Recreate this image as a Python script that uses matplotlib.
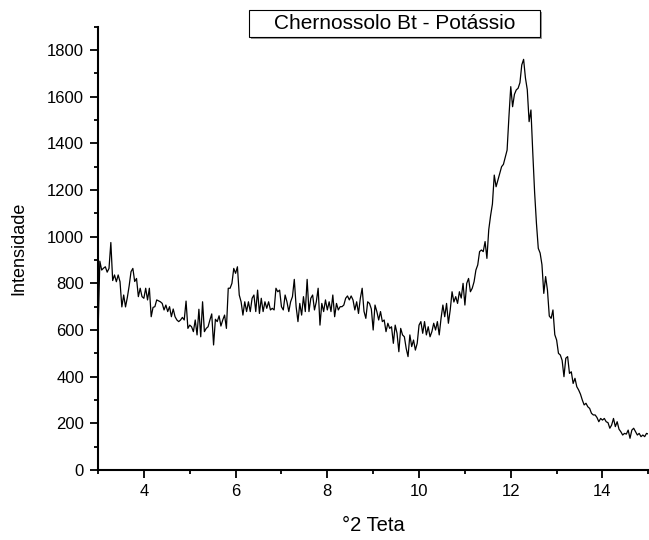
# ============================
# Import Libraries
# ============================

import numpy as np
import matplotlib.pyplot as plt
from matplotlib.ticker import MultipleLocator
from matplotlib.patches import Rectangle

plt.rcParams["font.family"] = ["Liberation Sans", "DejaVu Sans"]

# ============================
# Data
# ============================

x_start = 3.0
x_end = 15.0

intensity = [
    # 3 - 4
    580, 895, 857, 865, 871, 848, 864, 975, 812, 836, 807, 836, 807,
    699, 750, 699, 740, 790, 850, 864, 808, 821, 743, 779, 743, 736,
    # 4 - 5
    779, 729, 779, 657, 697, 700, 729, 725, 721, 714, 686, 707, 679,
    700, 657, 690, 657, 643, 636, 643, 654, 643, 724, 607, 621,
    # 5 - 6
    614, 593, 643, 579, 689, 571, 721, 593, 607, 614, 643, 669, 536,
    646, 636, 661, 617, 643, 664, 607, 779, 779, 800, 864, 843,
    # 6 - 7
    871, 750, 721, 664, 721, 679, 721, 679, 736, 750, 679, 771, 671,
    736, 679, 721, 693, 721, 686, 693, 686, 779, 764, 771, 700,
    # 7 - 8
    686, 750, 721, 679, 721, 743, 817, 700, 636, 714, 664, 743, 679,
    817, 679, 736, 750, 686, 721, 779, 621, 714, 679, 729, 686,
    # 8 - 9
    721, 679, 750, 657, 714, 686, 700, 700, 707, 736, 746, 729, 746,
    729, 686, 721, 671, 736, 779, 680, 650, 721, 714, 690, 600,
    # 9 - 10
    707, 679, 643, 679, 636, 643, 593, 629, 607, 614, 543, 621, 586,
    507, 607, 579, 571, 521, 486, 579, 529, 557, 514, 543, 621,
    # 10 - 11
    636, 586, 636, 579, 614, 571, 593, 629, 600, 636, 579, 650, 707,
    657, 714, 629, 686, 764, 720, 743, 714, 764, 737, 800, 707,
    # 11 - 12
    800, 821, 764, 779, 807, 857, 879, 936, 943, 936, 979, 907, 1030,
    1090, 1140, 1264, 1214, 1243, 1271, 1300, 1310, 1340, 1371, 1514, 1643,
    # 12 - 13
    1557, 1610, 1629, 1636, 1660, 1736, 1760, 1680, 1630, 1493, 1543, 1360, 1190,
    1057, 950, 930, 880, 757, 829, 771, 660, 650, 686, 580, 557,
    # 13 - 14
    500, 493, 470, 400, 479, 486, 414, 421, 371, 393, 357, 343, 325,
    300, 279, 286, 271, 264, 243, 236, 236, 225, 207, 221, 214,
    # 14 - 15
    221, 207, 203, 179, 193, 221, 186, 207, 175, 164, 150, 157, 154,
    171, 136, 171, 179, 164, 150, 157, 143, 150, 143, 157, 154,
]

two_theta = np.linspace(x_start, x_end, len(intensity))

title_text = "Chernossolo Bt - Potássio"

# ============================
# Plot
# ============================

fig = plt.figure(figsize=(6.49, 5.40), dpi=100)
ax = fig.add_axes([0.151, 0.1296, 0.848, 0.821])

ax.plot(two_theta, intensity, color="black", linewidth=0.9)

ax.set_xlim(x_start, x_end)
ax.set_ylim(0, 1900)

ax.xaxis.set_major_locator(MultipleLocator(2))
ax.xaxis.set_minor_locator(MultipleLocator(1))
ax.yaxis.set_major_locator(MultipleLocator(200))
ax.yaxis.set_minor_locator(MultipleLocator(100))

ax.spines["top"].set_visible(False)
ax.spines["right"].set_visible(False)
ax.spines["left"].set_linewidth(1.5)
ax.spines["bottom"].set_linewidth(1.5)

ax.tick_params(which="major", direction="out", length=6, width=1.3,
               labelsize=12, pad=4)
ax.tick_params(which="minor", direction="out", length=3, width=1.3)

ax.set_xlabel("°2 Teta", fontsize=14.5, labelpad=12)
ax.set_ylabel("Intensidade", fontsize=13, labelpad=14)

# title box with a light shadow
fig.patches.append(Rectangle((251 / 649, 1 - 39 / 540), 291 / 649, 27 / 540,
                             transform=fig.transFigure, facecolor="#9a9a9a",
                             edgecolor="none", zorder=1))
fig.patches.append(Rectangle((249 / 649, 1 - 37 / 540), 291 / 649, 27 / 540,
                             transform=fig.transFigure, facecolor="white",
                             edgecolor="black", linewidth=0.8, zorder=2))
fig.text(395 / 649, 1 - 23.5 / 540, title_text, fontsize=15,
         ha="center", va="center", zorder=3)

plt.savefig("out.png", dpi=100)
